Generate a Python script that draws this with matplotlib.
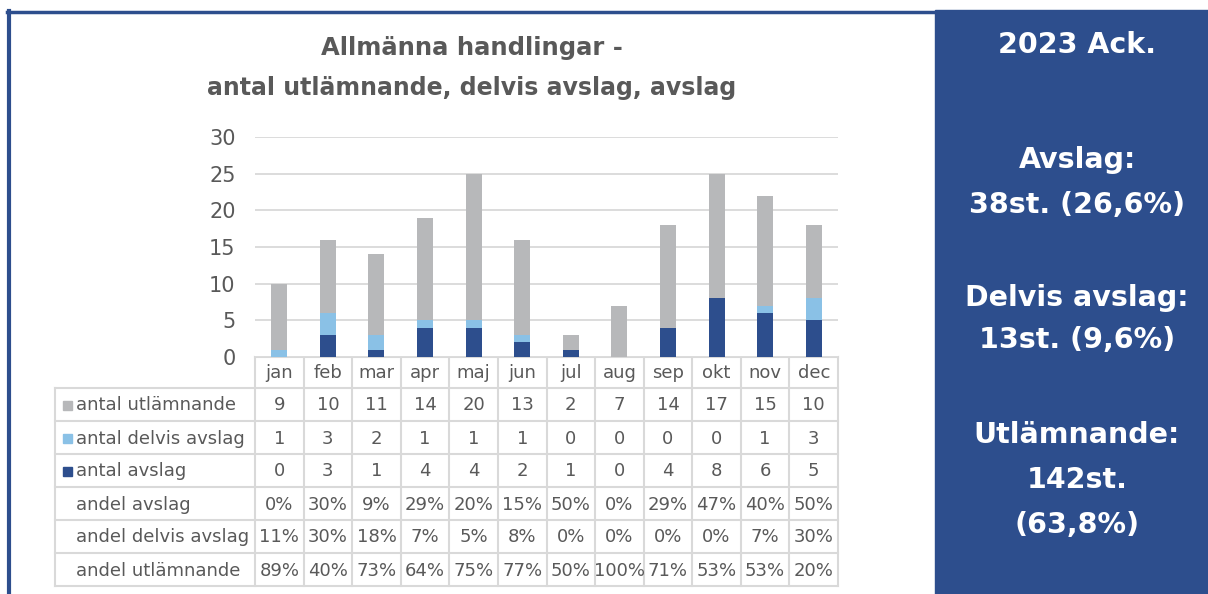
import matplotlib.pyplot as plt
from matplotlib.patches import Rectangle
from matplotlib.lines import Line2D

# Données
manader = ["jan", "feb", "mar", "apr", "maj", "jun", "jul", "aug", "sep", "okt", "nov", "dec"]
antal_utlamnande = [9, 10, 11, 14, 20, 13, 2, 7, 14, 17, 15, 10]
antal_delvis = [1, 3, 2, 1, 1, 1, 0, 0, 0, 0, 1, 3]
antal_avslag = [0, 3, 1, 4, 4, 2, 1, 0, 4, 8, 6, 5]
andel_avslag = ["0%", "30%", "9%", "29%", "20%", "15%", "50%", "0%", "29%", "47%", "40%", "50%"]
andel_delvis = ["11%", "30%", "18%", "7%", "5%", "8%", "0%", "0%", "0%", "0%", "7%", "30%"]
andel_utlamnande = ["89%", "40%", "73%", "64%", "75%", "77%", "50%", "100%", "71%", "53%", "53%", "20%"]
panel_texter = ["2023 Ack.", "Avslag:", "38st. (26,6%)", "Delvis avslag:", "13st. (9,6%)",
                "Utlämnande:", "142st.", "(63,8%)"]

GRA = "#B7B8BA"
LJUSBLA = "#8AC1E6"
MORKBLA = "#2D4E8D"
PANEL = "#2D4E8D"
TEXT = "#595959"
LINJE = "#D9D9D9"
SMAL = ["Liberation Sans Narrow", "DejaVu Sans"]

W, H = 1208, 594
fig = plt.figure(figsize=(W / 100, H / 100), dpi=100)

# Fond en coordonnées pixels
bg = fig.add_axes([0, 0, 1, 1])
bg.set_xlim(0, W)
bg.set_ylim(H, 0)
bg.axis("off")

# Cadre bleu et panneau de droite
bg.add_line(Line2D([8.5, 8.5], [11, H], color=MORKBLA, lw=3))
bg.add_line(Line2D([7, 936], [11.5, 11.5], color=MORKBLA, lw=2.5))
bg.add_patch(Rectangle((935, 10), W - 935, H - 10, color=PANEL))

# Titre
bg.text(472, 48, "Allmänna handlingar -", ha="center", va="center",
        fontsize=17.5, fontweight="bold", color=TEXT, family=SMAL)
bg.text(472, 88, "antal utlämnande, delvis avslag, avslag", ha="center", va="center",
        fontsize=17, fontweight="bold", color=TEXT, family=SMAL)

# Graphique en barres empilées
x0, x1, y0, y1 = 255, 838, 357, 137
ax = fig.add_axes([x0 / W, 1 - y0 / H, (x1 - x0) / W, (y0 - y1) / H])
pos = range(len(manader))
bredd = 0.33
ax.bar(pos, antal_avslag, bredd, color=MORKBLA, zorder=3)
ax.bar(pos, antal_delvis, bredd, bottom=antal_avslag, color=LJUSBLA, zorder=3)
bas = [a + d for a, d in zip(antal_avslag, antal_delvis)]
ax.bar(pos, antal_utlamnande, bredd, bottom=bas, color=GRA, zorder=3)
ax.set_xlim(-0.5, 11.5)
ax.set_ylim(0, 30)
ax.set_yticks(range(0, 31, 5))
ax.tick_params(axis="y", length=0, pad=14, labelsize=15, labelcolor=TEXT)
for lab in ax.get_yticklabels():
    lab.set_family(SMAL)
ax.set_xticks([])
ax.grid(axis="y", color=LINJE, lw=1.3, zorder=0)
for s in ax.spines.values():
    s.set_visible(False)

# Tableau de données
col_w = (x1 - x0) / 12
rad_h = 33
rubrik_top = 357
rubrik_bot = 388
rader = [
    ("antal utlämnande", antal_utlamnande, GRA),
    ("antal delvis avslag", antal_delvis, LJUSBLA),
    ("antal avslag", antal_avslag, MORKBLA),
    ("andel avslag", andel_avslag, None),
    ("andel delvis avslag", andel_delvis, None),
    ("andel utlämnande", andel_utlamnande, None),
]
botten = rubrik_bot + rad_h * len(rader)
tab_left = 55

# lignes horizontales
bg.add_line(Line2D([x0, x1], [rubrik_top, rubrik_top], color=LINJE, lw=1.5))
for i in range(len(rader) + 1):
    y = rubrik_bot + i * rad_h
    bg.add_line(Line2D([tab_left, x1], [y, y], color=LINJE, lw=1.5))
# lignes verticales
bg.add_line(Line2D([tab_left, tab_left], [rubrik_bot, botten], color=LINJE, lw=1.5))
for j in range(13):
    x = x0 + j * col_w
    bg.add_line(Line2D([x, x], [rubrik_top, botten], color=LINJE, lw=1.5))

for j, m in enumerate(manader):
    bg.text(x0 + (j + 0.5) * col_w, (rubrik_top + rubrik_bot) / 2 + 1, m,
            ha="center", va="center", fontsize=13, color=TEXT, family=SMAL)

for i, (namn, varden, farg) in enumerate(rader):
    yc = rubrik_bot + (i + 0.5) * rad_h + 1
    if farg is not None:
        bg.add_patch(Rectangle((63, yc - 5), 9, 9, color=farg))
    bg.text(76, yc, namn, ha="left", va="center", fontsize=13, color=TEXT, family=SMAL)
    for j, v in enumerate(varden):
        bg.text(x0 + (j + 0.5) * col_w, yc, str(v), ha="center", va="center",
                fontsize=13, color=TEXT, family=SMAL)

# Texte du panneau de droite
panel_y = [45, 160, 205, 298, 340, 435, 480, 525]
for t, y in zip(panel_texter, panel_y):
    bg.text(1077, y, t, ha="center", va="center", fontsize=20.5, fontweight="bold",
            color="white", family="DejaVu Sans")

fig.savefig("out.png", dpi=100)
